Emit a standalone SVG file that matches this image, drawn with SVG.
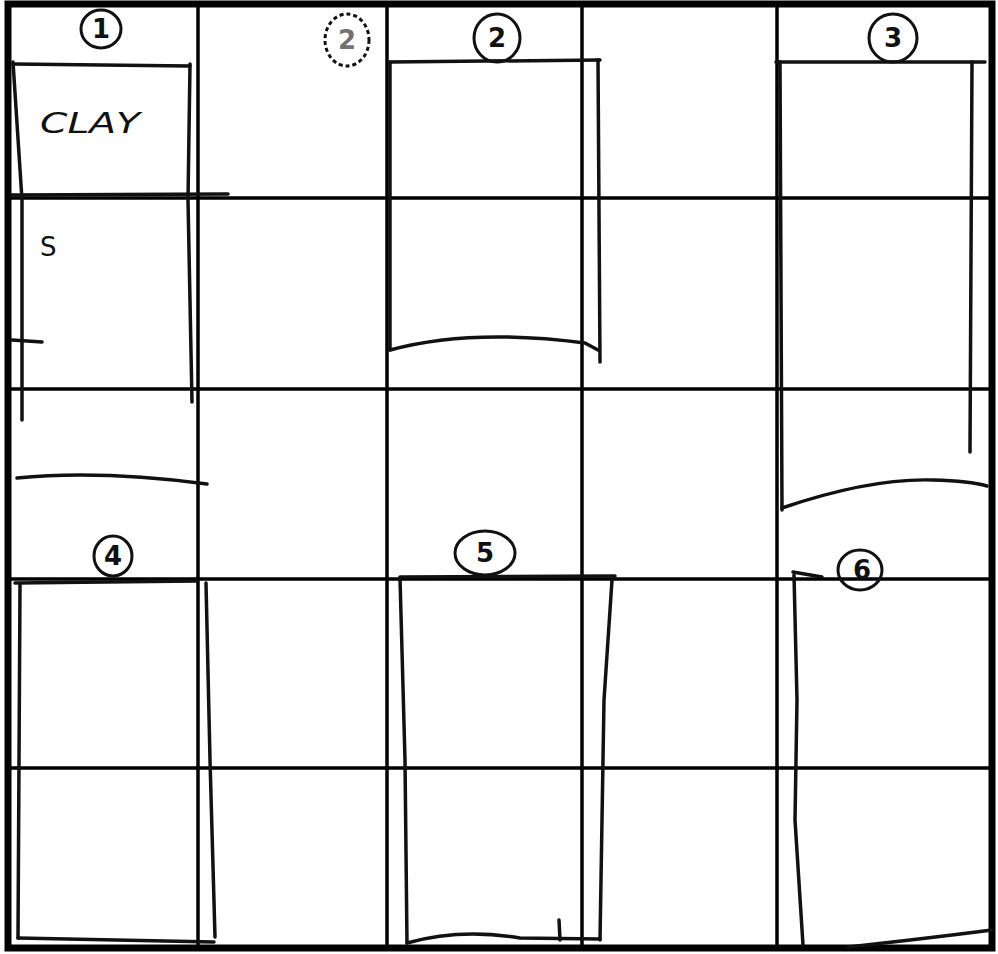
<svg xmlns="http://www.w3.org/2000/svg" width="998" height="954" viewBox="0 0 998 954">
<style>
.grid{stroke:#000;stroke-width:3.5;fill:none}
.border{stroke:#000;stroke-width:7;fill:none}
.sk{stroke:#111;stroke-width:3.5;fill:none;stroke-linecap:round;stroke-linejoin:round}
.circ{stroke:#111;stroke-width:3;fill:none}
.num{font-family:"DejaVu Sans",sans-serif;font-size:26px;font-weight:bold;fill:#111;text-anchor:middle}
.hand{font-family:"DejaVu Sans",sans-serif;fill:#111}
</style>
<rect width="998" height="954" fill="#fff"/>
<g id="grid">
<line class="grid" x1="198" y1="4" x2="198" y2="948"/>
<line class="grid" x1="387" y1="4" x2="387" y2="948"/>
<line class="grid" x1="582" y1="4" x2="582" y2="948"/>
<line class="grid" x1="777" y1="4" x2="777" y2="948"/>
<line class="grid" x1="8" y1="198" x2="992" y2="198"/>
<line class="grid" x1="8" y1="389" x2="992" y2="389"/>
<line class="grid" x1="8" y1="579" x2="992" y2="579"/>
<line class="grid" x1="8" y1="768" x2="992" y2="768"/>
<rect class="border" x="8" y="4" width="984" height="944"/>
</g>
<g id="panel1">
<path class="sk" d="M13 64 L190 66"/>
<path class="sk" d="M13 62 L22 200 L22 420"/>
<path class="sk" d="M190 64 L188 200 L192 402"/>
<path class="sk" d="M12 195 L228 194"/>
<path class="sk" d="M12 340 L42 342"/>
<path class="sk" d="M17 478 Q100 470 207 484"/>
<ellipse class="circ" cx="101" cy="29" rx="20" ry="19"/>
<text class="num" x="101" y="38">1</text>
<text class="hand" x="40" y="133" font-size="29" font-style="italic" textLength="100" lengthAdjust="spacingAndGlyphs">CLAY</text>
<text class="hand" x="40" y="256" font-size="26">S</text>
</g>
<g id="panel2">
<path class="sk" d="M390 62 L600 60"/>
<path class="sk" d="M390 62 L390 350"/>
<path class="sk" d="M598 60 L600 362"/>
<path class="sk" d="M390 350 Q470 328 585 343 L598 350"/>
<ellipse class="circ" cx="497" cy="38" rx="23" ry="24"/>
<text class="num" x="497" y="47">2</text>
<ellipse class="circ" cx="347" cy="40" rx="22" ry="26" stroke-dasharray="4 3" stroke-width="1.5"/>
<text class="num" x="347" y="49" fill-opacity="0.6">2</text>
</g>
<g id="panel3">
<path class="sk" d="M776 62 L985 62"/>
<path class="sk" d="M780 62 L782 510"/>
<path class="sk" d="M972 62 L970 452"/>
<path class="sk" d="M782 508 Q870 478 933 480 Q970 481 987 486"/>
<ellipse class="circ" cx="893" cy="38" rx="24" ry="24"/>
<text class="num" x="893" y="47">3</text>
</g>
<g id="panel4">
<path class="sk" d="M15 583 L197 581"/>
<path class="sk" d="M20 585 L18 938"/>
<path class="sk" d="M206 583 L210 760 L215 937"/>
<path class="sk" d="M18 938 L214 942"/>
<ellipse class="circ" cx="113" cy="556" rx="19" ry="20"/>
<text class="num" x="113" y="565">4</text>
</g>
<g id="panel5">
<path class="sk" d="M400 577 L615 576"/>
<path class="sk" d="M400 578 L405 760 L407 943"/>
<path class="sk" d="M612 580 L604 700 L600 940"/>
<path class="sk" d="M407 943 Q460 928 520 938 L600 939"/>
<path class="sk" d="M560 940 L559 920"/>
<ellipse class="circ" cx="485" cy="553" rx="30" ry="22"/>
<text class="num" x="485" y="562">5</text>
</g>
<g id="panel6">
<path class="sk" d="M793 572 L822 577"/>
<path class="sk" d="M794 575 L797 700 L795 820 L803 945"/>
<path class="sk" d="M848 947 Q930 938 992 930"/>
<ellipse class="circ" cx="860" cy="570" rx="22" ry="20"/>
<text class="num" x="862" y="579">6</text>
</g>
</svg>
